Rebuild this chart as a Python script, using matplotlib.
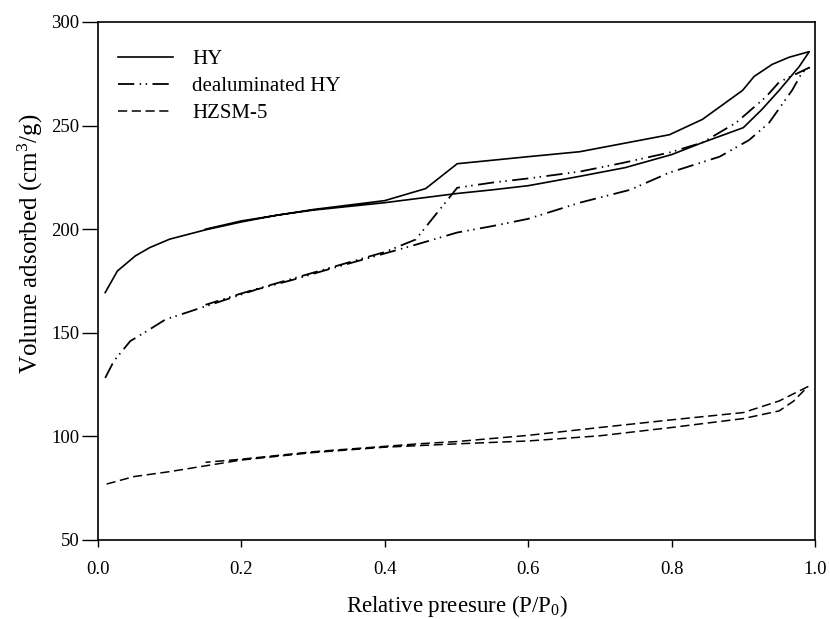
import matplotlib
matplotlib.use("Agg")
import matplotlib.pyplot as plt

plt.rcParams['font.family'] = ['Liberation Serif', 'DejaVu Serif']
plt.rcParams['mathtext.fontset'] = 'custom'
plt.rcParams['mathtext.rm'] = 'Liberation Serif'
plt.rcParams['mathtext.it'] = 'Liberation Serif:italic'

# HY
hy_ads_x = [0.01, 0.027, 0.052, 0.072, 0.10, 0.15, 0.20, 0.25, 0.30, 0.35, 0.40, 0.45, 0.50,
            0.55, 0.60, 0.67, 0.735, 0.80, 0.843, 0.90, 0.926, 0.95, 0.978, 0.992]
hy_ads_y = [169.4, 179.8, 187.1, 191.1, 195.2, 199.7, 203.5, 206.8, 209.2, 211.0, 212.8, 215.0, 217.2,
            219.0, 221.0, 225.4, 229.7, 236.0, 241.8, 249.0, 257.8, 267.0, 278.5, 285.7]
hy_des_x = [0.992, 0.964, 0.94, 0.915, 0.899, 0.843, 0.797, 0.672, 0.60, 0.501, 0.457, 0.40,
            0.30, 0.20, 0.15]
hy_des_y = [285.7, 283.0, 279.5, 273.7, 267.0, 253.0, 245.6, 237.4, 235.0, 231.6, 219.6, 213.8,
            209.5, 204.0, 200.0]

# dealuminated HY
de_ads_x = [0.01, 0.022, 0.045, 0.068, 0.094, 0.151, 0.221, 0.272, 0.33, 0.394, 0.443, 0.501,
            0.55, 0.60, 0.672, 0.742, 0.797, 0.867, 0.908, 0.936, 0.968, 0.982, 0.992]
de_ads_y = [128.2, 136.3, 146.0, 150.8, 156.4, 162.9, 170.9, 175.6, 181.5, 187.7, 192.5, 198.4,
            201.5, 205.0, 212.8, 219.0, 227.3, 235.0, 243.0, 251.4, 267.0, 275.6, 278.0]
de_des_x = [0.992, 0.95, 0.932, 0.89, 0.843, 0.797, 0.732, 0.672, 0.60, 0.55, 0.501, 0.443,
            0.40, 0.35, 0.30, 0.25, 0.20, 0.15]
de_des_y = [278.0, 271.0, 264.0, 251.4, 241.8, 237.0, 232.0, 227.8, 224.5, 222.5, 220.0, 195.0,
            189.0, 184.0, 179.0, 174.0, 169.0, 163.5]

# HZSM-5
zs_ads_x = [0.012, 0.05, 0.10, 0.20, 0.30, 0.40, 0.50, 0.60, 0.70, 0.80, 0.90, 0.95, 0.97, 0.99]
zs_ads_y = [77.0, 80.6, 83.0, 88.6, 92.2, 94.8, 96.4, 97.8, 100.3, 104.3, 108.6, 112.3, 117.0, 124.0]
zs_des_x = [0.99, 0.95, 0.90, 0.80, 0.70, 0.60, 0.50, 0.45, 0.40, 0.30, 0.20, 0.15]
zs_des_y = [124.0, 117.1, 111.5, 108.0, 104.3, 100.5, 97.5, 96.5, 95.2, 92.6, 89.0, 87.5]

labels = ['HY', 'dealuminated HY', 'HZSM-5']
x_ticks = [0.0, 0.2, 0.4, 0.6, 0.8, 1.0]
y_ticks = [50, 100, 150, 200, 250, 300]

fig = plt.figure(figsize=(8.3, 6.19), dpi=100)
ax = fig.add_axes([98 / 830, 1 - 540 / 619, 717 / 830, 518 / 619])

series = [
    (hy_ads_x + hy_des_x, hy_ads_y + hy_des_y, dict(linestyle='-', lw=1.2)),
    (de_ads_x + de_des_x, de_ads_y + de_des_y, dict(dashes=(9, 3, 0.8, 2.5, 0.8, 3), lw=1.3)),
    (zs_ads_x + zs_des_x, zs_ads_y + zs_des_y, dict(dashes=(6, 3), lw=1.1)),
]
for (x, y, st), lab in zip(series, labels):
    ax.plot(x, y, color='black', label=lab, **st)

ax.set_xlim(0, 1)
ax.set_ylim(50, 300)
ax.set_xticks(x_ticks)
ax.set_xticklabels([f'{t:.1f}' for t in x_ticks])
ax.set_yticks(y_ticks)
ax.tick_params(axis='x', direction='out', length=5, width=1, labelsize=13.5, pad=10)
ax.tick_params(axis='y', direction='out', length=11.5, width=1, labelsize=13.5, pad=2)
ax.tick_params(top=False, right=False)
for sp in ax.spines.values():
    sp.set_linewidth(1.2)

ax.set_xlabel('Relative preesure (P/P$_0$)', fontsize=16.5, labelpad=11)
ax.set_ylabel('Volume adsorbed (cm$^3$/g)', fontsize=18, labelpad=4)
ax.yaxis.set_label_coords(-0.074, 0.571)

leg = ax.legend(loc='upper left', bbox_to_anchor=(0.028, 0.947), frameon=False, fontsize=15,
                handlelength=2.65, handletextpad=0.9, labelspacing=0.36,
                borderpad=0, borderaxespad=0)

fig.savefig('out.png', dpi=100)
